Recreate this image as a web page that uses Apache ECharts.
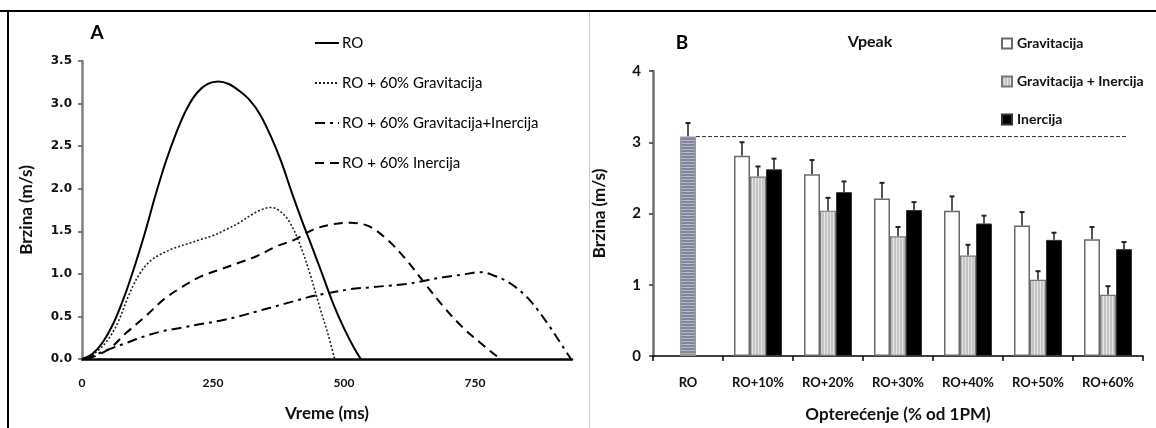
<!DOCTYPE html>
<html>
<head>
<meta charset="utf-8">
<script src="https://cdn.jsdelivr.net/npm/echarts@6/dist/echarts.min.js"></script>
<style>
  html, body { margin: 0; padding: 0; background: #fff; }
  #chart { width: 1156px; height: 428px; }
</style>
</head>
<body>
<div id="chart"></div>
<script>
// panel A: velocity curves (time in ms, speed in m/s)
const timeRO = [0, 20, 40, 60, 80, 100, 120, 140, 160, 180, 200, 220, 240, 260, 280, 300, 320, 340, 360, 380, 400, 420, 440, 460, 480, 500, 520, 532];
const speedRO = [0, 0.06, 0.2, 0.42, 0.72, 1.08, 1.48, 1.92, 2.32, 2.66, 2.94, 3.13, 3.23, 3.26, 3.23, 3.15, 3.04, 2.87, 2.62, 2.32, 1.96, 1.62, 1.30, 0.97, 0.64, 0.36, 0.12, 0];

const timeGrav = [5, 25, 50, 70, 90, 110, 130, 150, 175, 200, 225, 250, 275, 300, 325, 345, 360, 375, 395, 415, 435, 455, 470, 482];
const speedGrav = [0, 0.07, 0.23, 0.45, 0.76, 1.0, 1.15, 1.23, 1.3, 1.35, 1.40, 1.45, 1.52, 1.60, 1.70, 1.76, 1.78, 1.75, 1.62, 1.36, 1.0, 0.58, 0.28, 0];

const timeGravIner = [5, 50, 85, 121, 156, 192, 227, 263, 299, 334, 370, 405, 441, 476, 512, 547, 583, 618, 654, 689, 725, 760, 782, 817, 853, 888, 917, 933];
const speedGravIner = [0, 0.11, 0.19, 0.27, 0.33, 0.37, 0.41, 0.45, 0.50, 0.56, 0.62, 0.68, 0.74, 0.78, 0.82, 0.84, 0.86, 0.88, 0.92, 0.96, 0.99, 1.02, 0.99, 0.89, 0.70, 0.42, 0.15, 0];

const timeIner = [10, 50, 85, 121, 156, 192, 227, 263, 299, 334, 370, 405, 441, 476, 512, 547, 583, 618, 654, 689, 725, 760, 792, 800];
const speedIner = [0, 0.11, 0.31, 0.50, 0.70, 0.85, 0.97, 1.05, 1.13, 1.21, 1.32, 1.40, 1.52, 1.58, 1.60, 1.56, 1.40, 1.17, 0.89, 0.62, 0.38, 0.19, 0.03, 0];

// panel B: Vpeak by load
const categories = ["RO", "RO+10%", "RO+20%", "RO+30%", "RO+40%", "RO+50%", "RO+60%"];
const roValue = 3.08;
const roSd = 0.19;
const gravValues = [2.81, 2.55, 2.21, 2.04, 1.83, 1.64];
const gravSd = [0.19, 0.20, 0.22, 0.20, 0.19, 0.17];
const gravInerValues = [2.52, 2.04, 1.68, 1.41, 1.07, 0.86];
const gravInerSd = [0.14, 0.18, 0.13, 0.15, 0.12, 0.12];
const inerValues = [2.62, 2.30, 2.05, 1.86, 1.63, 1.50];
const inerSd = [0.15, 0.15, 0.11, 0.11, 0.10, 0.10];

const BAR_W = 16;

function zip(xs, ys) {
  return xs.map((x, i) => [x, ys[i]]);
}

function stripes(size, bg, fg, vertical) {
  const c = document.createElement("canvas");
  c.width = size;
  c.height = size;
  const ctx = c.getContext("2d");
  ctx.fillStyle = bg;
  ctx.fillRect(0, 0, size, size);
  ctx.fillStyle = fg;
  if (vertical) ctx.fillRect(0, 0, Math.ceil(size / 2), size);
  else ctx.fillRect(0, 0, size, Math.ceil(size / 2));
  return { image: c, repeat: "repeat" };
}

const grayStripes = stripes(3, "#e6e6e6", "#c4c4c4", true);
const roStripes = stripes(3, "#b4bac6", "#7f8798", false);

// error bars: [category index, mean, sd, slot]
const errData = [[0, roValue, roSd, 0]];
gravValues.forEach((v, i) => errData.push([i + 1, v, gravSd[i], -1]));
gravInerValues.forEach((v, i) => errData.push([i + 1, v, gravInerSd[i], 0]));
inerValues.forEach((v, i) => errData.push([i + 1, v, inerSd[i], 1]));

const chart = echarts.init(document.getElementById("chart"), null, { renderer: "canvas" });

const lineBase = { type: "line", xAxisIndex: 0, yAxisIndex: 0, smooth: 0.35, symbol: "none", silent: true };

const option = {
  animation: false,
  backgroundColor: "#fff",
  textStyle: { fontFamily: "Lato" },
  grid: [
    { left: 82, top: 61, width: 490, height: 298 },
    { left: 653, top: 71, width: 490, height: 288 }
  ],
  legend: [
    {
      orient: "vertical",
      left: 309,
      top: 30,
      itemWidth: 24,
      itemHeight: 14,
      itemGap: 24,
      itemStyle: { opacity: 0 },
      textStyle: { fontFamily: "Lato", fontSize: 15, color: "#000", lineHeight: 16, padding: [0, 0, 0, -2] },
      data: ["RO", "RO + 60% Gravitacija", "RO + 60% Gravitacija+Inercija", "RO + 60% Inercija"]
    },
    {
      orient: "vertical",
      left: 996,
      top: 31,
      icon: "rect",
      itemWidth: 10,
      itemHeight: 10,
      itemGap: 23,
      textStyle: { fontFamily: "Lato", fontSize: 14, fontWeight: "bold", color: "#111", lineHeight: 15 },
      data: ["Gravitacija", "Gravitacija + Inercija", "Inercija"]
    }
  ],
  xAxis: [
    {
      gridIndex: 0,
      type: "value",
      min: 0,
      max: 935,
      interval: 250,
      name: "Vreme (ms)",
      nameLocation: "middle",
      nameGap: 46,
      nameTextStyle: { fontFamily: "Lato", fontSize: 17, fontWeight: "bold", color: "#111" },
      axisLine: { lineStyle: { color: "#000", width: 2.5 } },
      axisTick: { show: false },
      splitLine: { show: false },
      axisLabel: { showMaxLabel: false, margin: 18, fontFamily: "Lato", fontSize: 12, fontWeight: "bold", color: "#111" }
    },
    {
      gridIndex: 1,
      type: "category",
      data: categories,
      name: "Opterećenje (% od 1PM)",
      nameLocation: "middle",
      nameGap: 50,
      nameTextStyle: { fontFamily: "Lato", fontSize: 17, fontWeight: "bold", color: "#111" },
      axisLine: { lineStyle: { color: "#000", width: 1.5 } },
      axisTick: { show: true, length: 5, lineStyle: { color: "#000", width: 1.5 } },
      axisLabel: { margin: 20, fontFamily: "Lato", fontSize: 13, fontWeight: "bold", color: "#111" }
    }
  ],
  yAxis: [
    {
      gridIndex: 0,
      type: "value",
      min: 0,
      max: 3.5,
      interval: 0.5,
      name: "Brzina (m/s)",
      nameLocation: "middle",
      nameGap: 47,
      nameTextStyle: { fontFamily: "Lato", fontSize: 17, fontWeight: "bold", color: "#111" },
      axisLine: { show: true, lineStyle: { color: "#808080", width: 2.5 } },
      axisTick: { show: true, length: 4, lineStyle: { color: "#555", width: 1.5 } },
      splitLine: { show: false },
      axisLabel: {
        margin: 10,
        fontFamily: "DejaVu Sans",
        fontSize: 12,
        fontWeight: "bold",
        color: "#111",
        formatter: (v) => v.toFixed(1)
      }
    },
    {
      gridIndex: 1,
      type: "value",
      min: 0,
      max: 4,
      interval: 1,
      name: "Brzina (m/s)",
      nameLocation: "middle",
      nameGap: 45,
      nameTextStyle: { fontFamily: "Lato", fontSize: 17, fontWeight: "bold", color: "#111" },
      axisLine: { show: true, lineStyle: { color: "#707070", width: 2.5 } },
      axisTick: { show: true, length: 4, lineStyle: { color: "#333", width: 1.5 } },
      splitLine: { show: false },
      axisLabel: { margin: 12, fontFamily: "Lato", fontSize: 15, fontWeight: "bold", color: "#111" }
    }
  ],
  graphic: [
    { type: "line", silent: true, shape: { x1: 0, y1: 11, x2: 1156, y2: 11 }, style: { stroke: "#000", lineWidth: 2 } },
    { type: "line", silent: true, shape: { x1: 8, y1: 11, x2: 8, y2: 428 }, style: { stroke: "#000", lineWidth: 2 } },
    { type: "line", silent: true, shape: { x1: 589.5, y1: 12, x2: 589.5, y2: 428 }, style: { stroke: "#c8c8c8", lineWidth: 1 } },
    { type: "text", silent: true, x: 97, y: 33, style: { text: "A", font: "bold 19px Lato", fill: "#000", textAlign: "center", textVerticalAlign: "middle" } },
    { type: "text", silent: true, x: 682, y: 43, style: { text: "B", font: "bold 19px Lato", fill: "#000", textAlign: "center", textVerticalAlign: "middle" } },
    { type: "text", silent: true, x: 870, y: 42, style: { text: "Vpeak", font: "bold 16px Lato", fill: "#111", textAlign: "center", textVerticalAlign: "middle" } }
  ],
  series: [
    Object.assign({}, lineBase, {
      name: "RO",
      data: zip(timeRO, speedRO),
      lineStyle: { color: "#000", width: 2, type: "solid" },
      itemStyle: { color: "#000" }
    }),
    Object.assign({}, lineBase, {
      name: "RO + 60% Gravitacija",
      data: zip(timeGrav, speedGrav),
      lineStyle: { color: "#222", width: 1.6, type: [2, 2] },
      itemStyle: { color: "#222" }
    }),
    Object.assign({}, lineBase, {
      name: "RO + 60% Gravitacija+Inercija",
      data: zip(timeGravIner, speedGravIner),
      lineStyle: { color: "#000", width: 2, type: [10, 5, 3, 5] },
      itemStyle: { color: "#000" }
    }),
    Object.assign({}, lineBase, {
      name: "RO + 60% Inercija",
      data: zip(timeIner, speedIner),
      lineStyle: { color: "#000", width: 2, type: [9, 6] },
      itemStyle: { color: "#000" }
    }),
    {
      name: "Gravitacija",
      type: "bar",
      xAxisIndex: 1,
      yAxisIndex: 1,
      barWidth: BAR_W,
      barGap: "0%",
      data: ["-"].concat(gravValues),
      itemStyle: { color: "#fff", borderColor: "#6a6a6a", borderWidth: 1.5 }
    },
    {
      name: "Gravitacija + Inercija",
      type: "bar",
      xAxisIndex: 1,
      yAxisIndex: 1,
      barWidth: BAR_W,
      barGap: "0%",
      data: [{ value: roValue, itemStyle: { color: roStripes, borderColor: "#9a9a9a", borderWidth: 1.5 } }].concat(gravInerValues),
      itemStyle: { color: grayStripes, borderColor: "#777", borderWidth: 1.2 }
    },
    {
      name: "Inercija",
      type: "bar",
      xAxisIndex: 1,
      yAxisIndex: 1,
      barWidth: BAR_W,
      barGap: "0%",
      data: ["-"].concat(inerValues),
      itemStyle: { color: "#000", borderColor: "#333", borderWidth: 1 }
    },
    {
      name: "ref",
      type: "custom",
      xAxisIndex: 1,
      yAxisIndex: 1,
      silent: true,
      data: [[0, roValue]],
      renderItem: function (params, api) {
        const p = api.coord([api.value(0), api.value(1)]);
        const cs = params.coordSys;
        return {
          type: "line",
          shape: { x1: p[0] + BAR_W / 2, y1: p[1], x2: cs.x + cs.width - 15, y2: p[1] },
          style: { stroke: "#333", lineWidth: 1, lineDash: [4, 2] }
        };
      }
    },
    {
      name: "err",
      type: "custom",
      xAxisIndex: 1,
      yAxisIndex: 1,
      silent: true,
      data: errData,
      renderItem: function (params, api) {
        const cat = api.value(0);
        const mean = api.value(1);
        const sd = api.value(2);
        const slot = api.value(3);
        const base = api.coord([cat, mean]);
        const top = api.coord([cat, mean + sd]);
        const x = base[0] + slot * BAR_W;
        return {
          type: "group",
          children: [
            { type: "line", shape: { x1: x, y1: base[1], x2: x, y2: top[1] }, style: { stroke: "#555", lineWidth: 2 } },
            { type: "line", shape: { x1: x - 2.5, y1: top[1], x2: x + 2.5, y2: top[1] }, style: { stroke: "#222", lineWidth: 2 } }
          ]
        };
      }
    }
  ]
};

chart.setOption(option);
</script>
</body>
</html>
